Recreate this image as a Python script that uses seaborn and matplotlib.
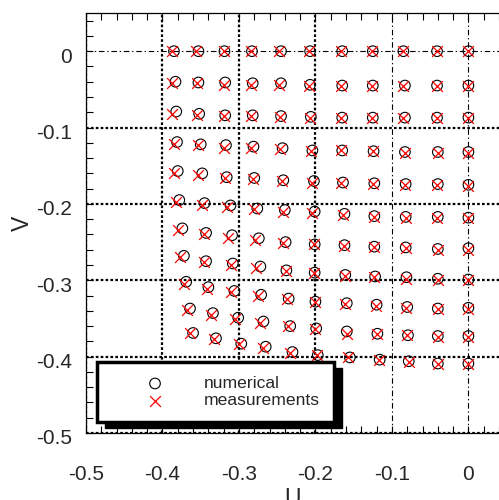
#scatter of numerical vs measured (U, V) positions on a deformed grid
#imports
import numpy as np
import pandas as pd
import matplotlib
matplotlib.use("Agg")
import matplotlib.pyplot as plt
import matplotlib.transforms as mtransforms
from matplotlib.patches import Rectangle
from matplotlib.ticker import MultipleLocator
import seaborn as sns

#values, one list per grid row (top to bottom)
num_u = [
    [-0.385, -0.353, -0.319, -0.283, -0.245, -0.207, -0.165, -0.125, -0.085, -0.041, 0.000],
    [-0.383, -0.353, -0.318, -0.282, -0.245, -0.207, -0.165, -0.125, -0.083, -0.041, 0.000],
    [-0.382, -0.352, -0.318, -0.282, -0.245, -0.206, -0.165, -0.125, -0.083, -0.041, 0.000],
    [-0.381, -0.350, -0.317, -0.281, -0.243, -0.204, -0.165, -0.124, -0.083, -0.040, 0.000],
    [-0.380, -0.348, -0.316, -0.280, -0.242, -0.202, -0.164, -0.123, -0.082, -0.040, 0.000],
    [-0.378, -0.345, -0.311, -0.276, -0.240, -0.201, -0.162, -0.123, -0.082, -0.040, 0.000],
    [-0.374, -0.343, -0.309, -0.274, -0.239, -0.201, -0.162, -0.123, -0.082, -0.040, 0.000],
    [-0.372, -0.343, -0.308, -0.272, -0.238, -0.201, -0.161, -0.122, -0.081, -0.040, 0.000],
    [-0.369, -0.340, -0.306, -0.271, -0.235, -0.200, -0.159, -0.120, -0.080, -0.040, 0.000],
    [-0.364, -0.334, -0.301, -0.268, -0.233, -0.199, -0.159, -0.119, -0.079, -0.040, 0.000],
    [-0.360, -0.330, -0.297, -0.265, -0.230, -0.197, -0.155, -0.116, -0.078, -0.040, 0.000],
]
num_v = [
    [0.000, 0.000, 0.000, 0.000, 0.000, 0.000, 0.000, 0.000, 0.000, 0.000, 0.000],
    [-0.040, -0.041, -0.041, -0.042, -0.042, -0.044, -0.045, -0.045, -0.045, -0.045, -0.045],
    [-0.079, -0.082, -0.084, -0.084, -0.085, -0.086, -0.087, -0.087, -0.087, -0.087, -0.087],
    [-0.119, -0.122, -0.123, -0.125, -0.127, -0.130, -0.130, -0.131, -0.132, -0.132, -0.132],
    [-0.157, -0.160, -0.165, -0.166, -0.169, -0.170, -0.172, -0.173, -0.174, -0.174, -0.175],
    [-0.195, -0.199, -0.202, -0.206, -0.208, -0.210, -0.213, -0.216, -0.217, -0.217, -0.218],
    [-0.232, -0.238, -0.241, -0.245, -0.250, -0.253, -0.254, -0.256, -0.257, -0.259, -0.258],
    [-0.268, -0.275, -0.278, -0.282, -0.287, -0.290, -0.293, -0.295, -0.296, -0.298, -0.299],
    [-0.302, -0.309, -0.314, -0.319, -0.324, -0.328, -0.330, -0.332, -0.335, -0.337, -0.336],
    [-0.337, -0.343, -0.349, -0.354, -0.360, -0.363, -0.367, -0.370, -0.372, -0.373, -0.373],
    [-0.369, -0.376, -0.383, -0.387, -0.394, -0.398, -0.401, -0.404, -0.406, -0.409, -0.409],
]
meas_u = [
    [-0.388, -0.356, -0.320, -0.284, -0.247, -0.208, -0.167, -0.126, -0.085, -0.041, 0.000],
    [-0.387, -0.355, -0.320, -0.284, -0.247, -0.208, -0.167, -0.126, -0.085, -0.041, 0.000],
    [-0.387, -0.355, -0.320, -0.284, -0.246, -0.207, -0.167, -0.126, -0.085, -0.041, 0.000],
    [-0.385, -0.353, -0.320, -0.284, -0.246, -0.206, -0.167, -0.125, -0.083, -0.040, 0.000],
    [-0.385, -0.354, -0.318, -0.281, -0.244, -0.204, -0.166, -0.125, -0.083, -0.041, 0.000],
    [-0.382, -0.348, -0.316, -0.280, -0.243, -0.204, -0.164, -0.124, -0.082, -0.041, 0.000],
    [-0.380, -0.346, -0.314, -0.279, -0.242, -0.202, -0.163, -0.124, -0.082, -0.040, 0.000],
    [-0.377, -0.346, -0.311, -0.278, -0.239, -0.202, -0.161, -0.123, -0.082, -0.040, 0.000],
    [-0.372, -0.342, -0.310, -0.275, -0.237, -0.201, -0.161, -0.121, -0.081, -0.040, 0.000],
    [-0.368, -0.337, -0.305, -0.272, -0.236, -0.200, -0.159, -0.119, -0.080, -0.040, 0.000],
    [-0.364, -0.332, -0.300, -0.268, -0.233, -0.198, -0.157, -0.117, -0.078, -0.040, 0.000],
]
meas_v = [
    [0.000, 0.000, 0.000, 0.000, 0.000, 0.000, 0.000, 0.000, 0.000, 0.000, 0.000],
    [-0.042, -0.042, -0.044, -0.044, -0.044, -0.045, -0.045, -0.045, -0.045, -0.045, -0.045],
    [-0.082, -0.084, -0.085, -0.085, -0.086, -0.087, -0.088, -0.088, -0.088, -0.088, -0.088],
    [-0.121, -0.123, -0.127, -0.127, -0.128, -0.131, -0.130, -0.131, -0.133, -0.133, -0.133],
    [-0.160, -0.162, -0.166, -0.167, -0.170, -0.172, -0.172, -0.174, -0.175, -0.175, -0.176],
    [-0.197, -0.201, -0.204, -0.207, -0.210, -0.212, -0.214, -0.217, -0.218, -0.218, -0.218],
    [-0.234, -0.240, -0.244, -0.247, -0.251, -0.253, -0.255, -0.257, -0.258, -0.260, -0.260],
    [-0.269, -0.276, -0.280, -0.284, -0.288, -0.290, -0.294, -0.296, -0.298, -0.299, -0.299],
    [-0.305, -0.311, -0.316, -0.321, -0.325, -0.328, -0.331, -0.334, -0.336, -0.337, -0.337],
    [-0.339, -0.346, -0.351, -0.356, -0.360, -0.364, -0.370, -0.370, -0.372, -0.374, -0.374],
    [-0.369, -0.377, -0.384, -0.389, -0.395, -0.398, -0.400, -0.404, -0.407, -0.409, -0.409],
]

x_ticks = [-0.5, -0.4, -0.3, -0.2, -0.1, 0.0]
x_labels = ["-0.5", "-0.4", "-0.3", "-0.2", "-0.1", "0"]
y_ticks = [-0.5, -0.4, -0.3, -0.2, -0.1, 0.0]
y_labels = ["-0.5", "-0.4", "-0.3", "-0.2", "-0.1", "0"]

sns.set_style("ticks")
plt.rcParams["font.family"] = ["Liberation Sans", "DejaVu Sans"]

num = pd.DataFrame({"U": np.ravel(num_u), "V": np.ravel(num_v)})
meas = pd.DataFrame({"U": np.ravel(meas_u), "V": np.ravel(meas_v)})

fig = plt.figure(figsize=(4.99, 5.0), dpi=100)
ax = fig.add_axes([86 / 499, 67 / 500, 413 / 499, 420 / 500])

sns.scatterplot(data=num, x="U", y="V", marker="o", s=58, facecolor="none",
                edgecolor="black", linewidth=0.8, label="numerical", ax=ax, zorder=3)
sns.scatterplot(data=meas, x="U", y="V", marker="x", s=60, color="red",
                linewidth=0.9, label="measurements", ax=ax, zorder=4)

ax.set_xlim(-0.5, 0.04)
ax.set_ylim(-0.5, 0.05)
ax.set_xticks(x_ticks)
ax.set_xticklabels(x_labels)
ax.set_yticks(y_ticks)
ax.set_yticklabels(y_labels)
ax.xaxis.set_minor_locator(MultipleLocator(0.02))
ax.yaxis.set_minor_locator(MultipleLocator(0.02))

ax.tick_params(which="both", direction="in", top=True, right=False,
               length=5, width=0.8, color="black")
ax.tick_params(axis="x", which="major", labelsize=15, pad=23)
ax.tick_params(axis="y", which="major", labelsize=15, pad=10)
for sp in ["left", "bottom", "top"]:
    ax.spines[sp].set_linewidth(0.9)
    ax.spines[sp].set_color("black")
ax.spines["right"].set_visible(False)

#grid: heavy dotted lines, a few thin dash-dot ones
ax.grid(True, which="major", color="black", linewidth=1.6, linestyle=(0, (1.2, 1.0)))
for val, gl in zip(x_ticks, ax.get_xgridlines()):
    if val in (-0.1, 0.0):
        gl.set_linewidth(0.8)
        gl.set_linestyle((0, (5, 2.5, 1.2, 2.5)))
for val, gl in zip(y_ticks, ax.get_ygridlines()):
    if val == 0.0:
        gl.set_linewidth(0.8)
        gl.set_linestyle((0, (5, 2.5, 1.2, 2.5)))

#y tick labels sit a little under their ticks
shift = mtransforms.ScaledTranslation(0, -4 / 100, fig.dpi_scale_trans)
for lbl in ax.get_yticklabels():
    lbl.set_transform(lbl.get_transform() + shift)

ax.set_xlabel("U", fontsize=16.5, labelpad=2)
ax.set_ylabel("V", fontsize=16.5, labelpad=1.5)

leg = ax.legend(loc="upper left", bbox_to_anchor=(11 / 413, 71 / 420), borderaxespad=0,
                fontsize=12.6, frameon=True, fancybox=False, framealpha=1,
                edgecolor="black", handlelength=5.05, handletextpad=0.28,
                borderpad=0.79, labelspacing=0.12)
leg.get_frame().set_linewidth(2.5)
leg.set_zorder(6)

#black drop shadow behind the legend box
fig.canvas.draw()
bb = leg.get_frame().get_window_extent()
inv = ax.transAxes.inverted()
(x0, y0), (x1, y1) = inv.transform([[bb.x0 + 8, bb.y0 - 6], [bb.x1 + 8, bb.y1 - 6]])
ax.add_patch(Rectangle((x0, y0), x1 - x0, y1 - y0, transform=ax.transAxes,
                       color="black", zorder=5.5, clip_on=False))

fig.savefig("out.png", dpi=100)
